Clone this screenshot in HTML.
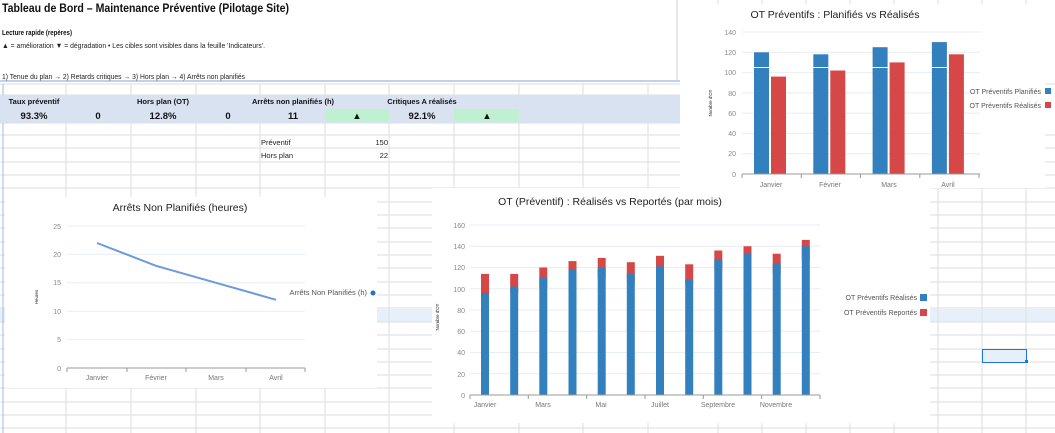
<!DOCTYPE html>
<html><head><meta charset="utf-8"><style>
html,body{margin:0;padding:0;background:#fff;width:1055px;height:433px;overflow:hidden}
svg{display:block;font-family:"Liberation Sans",sans-serif}
</style></head><body>
<svg width="1055" height="433" viewBox="0 0 1055 433" xmlns="http://www.w3.org/2000/svg">
<rect x="0" y="309" width="1055" height="13" fill="#e6f0fb"/>
<g stroke="#dedede" stroke-width="1">
<line x1="0" y1="84" x2="1055" y2="84"/><line x1="0" y1="95" x2="680" y2="95"/><line x1="0" y1="109" x2="680" y2="109"/><line x1="0" y1="123" x2="680" y2="123"/>
<line x1="0" y1="135" x2="1055" y2="135"/><line x1="0" y1="148" x2="1055" y2="148"/><line x1="0" y1="162" x2="1055" y2="162"/><line x1="0" y1="175" x2="1055" y2="175"/><line x1="0" y1="188" x2="1055" y2="188"/>
<line x1="0" y1="202" x2="1055" y2="202"/><line x1="0" y1="215" x2="1055" y2="215"/><line x1="0" y1="228" x2="1055" y2="228"/><line x1="0" y1="242" x2="1055" y2="242"/><line x1="0" y1="255" x2="1055" y2="255"/><line x1="0" y1="268" x2="1055" y2="268"/><line x1="0" y1="282" x2="1055" y2="282"/><line x1="0" y1="295" x2="1055" y2="295"/><line x1="0" y1="308" x2="1055" y2="308"/><line x1="0" y1="322" x2="1055" y2="322"/><line x1="0" y1="335" x2="1055" y2="335"/><line x1="0" y1="349" x2="1055" y2="349"/><line x1="0" y1="362" x2="1055" y2="362"/><line x1="0" y1="375" x2="1055" y2="375"/><line x1="0" y1="388" x2="1055" y2="388"/><line x1="0" y1="402" x2="1055" y2="402"/><line x1="0" y1="415" x2="1055" y2="415"/><line x1="0" y1="428" x2="1055" y2="428"/>
<line x1="66" y1="84" x2="66" y2="433"/><line x1="131" y1="84" x2="131" y2="433"/><line x1="196" y1="84" x2="196" y2="433"/><line x1="260" y1="84" x2="260" y2="433"/><line x1="325" y1="84" x2="325" y2="433"/><line x1="389" y1="84" x2="389" y2="433"/><line x1="454" y1="84" x2="454" y2="433"/><line x1="519" y1="84" x2="519" y2="433"/><line x1="583" y1="84" x2="583" y2="433"/><line x1="648" y1="84" x2="648" y2="433"/>
<line x1="718" y1="0" x2="718" y2="433"/><line x1="762" y1="0" x2="762" y2="433"/><line x1="806" y1="0" x2="806" y2="433"/><line x1="850" y1="0" x2="850" y2="433"/><line x1="894" y1="0" x2="894" y2="433"/><line x1="938" y1="0" x2="938" y2="433"/><line x1="982" y1="0" x2="982" y2="433"/><line x1="1026" y1="0" x2="1026" y2="433"/>
</g>
<line x1="3" y1="84" x2="3" y2="433" stroke="#9dbbe6" stroke-width="1"/>
<rect x="0" y="0" width="678" height="80" fill="#fff"/>
<line x1="677" y1="0" x2="677" y2="80" stroke="#d0d0d0"/>
<line x1="0" y1="81" x2="680" y2="81" stroke="#7fa6d9"/>
<text x="2" y="12" font-size="12" font-weight="bold" fill="#111" textLength="287" lengthAdjust="spacingAndGlyphs">Tableau de Bord – Maintenance Préventive (Pilotage Site)</text>
<text x="2" y="35" font-size="7.5" font-weight="bold" fill="#111" textLength="70" lengthAdjust="spacingAndGlyphs">Lecture rapide (repères)</text>
<text x="2" y="48" font-size="7.5" fill="#222" textLength="263" lengthAdjust="spacingAndGlyphs">▲ = amélioration   ▼ = dégradation   • Les cibles sont visibles dans la feuille 'Indicateurs'.</text>
<text x="2" y="79" font-size="7.5" fill="#222" textLength="243" lengthAdjust="spacingAndGlyphs">1) Tenue du plan → 2) Retards critiques → 3) Hors plan → 4) Arrêts non planifiés</text>
<rect x="0" y="95" width="680" height="28" fill="#d9e2f1"/>
<rect x="325" y="109" width="64" height="13" fill="#bff0cf"/>
<rect x="454" y="109" width="65" height="13" fill="#bff0cf"/>
<g font-size="7.5" font-weight="bold" fill="#111" text-anchor="middle">
<text x="34" y="104">Taux préventif</text><text x="163" y="104">Hors plan (OT)</text><text x="293" y="104">Arrêts non planifiés (h)</text><text x="422" y="104">Critiques A réalisés</text>
</g>
<g font-size="9.5" font-weight="bold" fill="#111" text-anchor="middle">
<text x="34" y="119">93.3%</text><text x="98" y="119">0</text><text x="163" y="119">12.8%</text><text x="228" y="119">0</text><text x="293" y="119">11</text><text x="357" y="119">▲</text><text x="422" y="119">92.1%</text><text x="487" y="119">▲</text>
</g>
<g font-size="7.5" fill="#222"><text x="261" y="145">Préventif</text><text x="261" y="158">Hors plan</text>
<text x="388" y="145" text-anchor="end">150</text><text x="388" y="158" text-anchor="end">22</text></g>
<rect x="982.5" y="349.5" width="44" height="13" fill="#e6f0fb" stroke="#1a73e8" stroke-width="1"/>
<rect x="1025" y="360" width="3" height="3" fill="#1a73e8"/>

<rect x="680" y="4" width="365" height="184" fill="#fff"/>
<text x="835" y="18" font-size="10.5" fill="#222" text-anchor="middle">OT Préventifs : Planifiés vs Réalisés</text>
<g stroke="#e8eef6"><line x1="742" y1="153.7" x2="980" y2="153.7"/><line x1="742" y1="133.4" x2="980" y2="133.4"/><line x1="742" y1="113.1" x2="980" y2="113.1"/><line x1="742" y1="92.9" x2="980" y2="92.9"/><line x1="742" y1="72.6" x2="980" y2="72.6"/><line x1="742" y1="52.3" x2="980" y2="52.3"/><line x1="742" y1="32" x2="980" y2="32"/></g>
<g font-size="7" fill="#888" text-anchor="end"><text x="736" y="177">0</text><text x="736" y="156">20</text><text x="736" y="136">40</text><text x="736" y="116">60</text><text x="736" y="96">80</text><text x="736" y="75">100</text><text x="736" y="55">120</text><text x="736" y="35">140</text></g>
<text transform="translate(712,103) rotate(-90)" font-size="4.5" fill="#222" text-anchor="middle">Nombre d'OT</text>
<g fill="#3380bf"><rect x="754" y="52.3" width="15" height="121.7"/><rect x="813.3" y="54.3" width="15" height="119.7"/><rect x="872.6" y="47.2" width="15" height="126.8"/><rect x="931.9" y="42.1" width="15" height="131.9"/></g>
<g fill="#d64848"><rect x="771" y="76.6" width="15" height="97.4"/><rect x="830.3" y="70.5" width="15" height="103.5"/><rect x="889.6" y="62.4" width="15" height="111.6"/><rect x="948.9" y="54.3" width="15" height="119.7"/></g>
<g stroke="#fff" stroke-width="1"><line x1="754" y1="67.5" x2="769" y2="67.5"/><line x1="813.3" y1="67.5" x2="828.3" y2="67.5"/><line x1="872.6" y1="67.5" x2="887.6" y2="67.5"/><line x1="931.9" y1="67.5" x2="946.9" y2="67.5"/></g>
<line x1="742" y1="174" x2="980" y2="174" stroke="#999"/>
<g stroke="#999"><line x1="742" y1="174" x2="742" y2="178"/><line x1="801.3" y1="174" x2="801.3" y2="178"/><line x1="860.5" y1="174" x2="860.5" y2="178"/><line x1="919.8" y1="174" x2="919.8" y2="178"/><line x1="979" y1="174" x2="979" y2="178"/></g>
<g font-size="7" fill="#777" text-anchor="middle"><text x="771" y="187">Janvier</text><text x="830" y="187">Février</text><text x="889" y="187">Mars</text><text x="948" y="187">Avril</text></g>
<g font-size="7" fill="#555" text-anchor="end"><text x="1041" y="94">OT Préventifs Planifiés</text><text x="1041" y="108">OT Préventifs Réalisés</text></g>
<rect x="1045" y="88" width="6" height="6" fill="#3380bf"/><rect x="1045" y="102" width="6" height="6" fill="#d64848"/>

<rect x="5" y="197" width="372" height="191" fill="#fff"/>
<text x="180" y="211" font-size="10.5" fill="#222" text-anchor="middle">Arrêts Non Planifiés (heures)</text>
<g stroke="#e8eef6"><line x1="67" y1="339.6" x2="305" y2="339.6"/><line x1="67" y1="311.2" x2="305" y2="311.2"/><line x1="67" y1="282.8" x2="305" y2="282.8"/><line x1="67" y1="254.4" x2="305" y2="254.4"/><line x1="67" y1="226" x2="305" y2="226"/></g>
<g font-size="7" fill="#888" text-anchor="end"><text x="61" y="371">0</text><text x="61" y="342">5</text><text x="61" y="314">10</text><text x="61" y="285">15</text><text x="61" y="257">20</text><text x="61" y="229">25</text></g>
<text transform="translate(38,297) rotate(-90)" font-size="4.5" fill="#222" text-anchor="middle">Heures</text>
<line x1="67" y1="368" x2="305" y2="368" stroke="#999"/>
<g stroke="#999"><line x1="67" y1="368" x2="67" y2="372"/><line x1="127" y1="368" x2="127" y2="372"/><line x1="186" y1="368" x2="186" y2="372"/><line x1="246" y1="368" x2="246" y2="372"/><line x1="305" y1="368" x2="305" y2="372"/></g>
<polyline points="97,243 156,265.8 216,282.8 276,299.8" fill="none" stroke="#6a9ae0" stroke-width="2"/>
<g font-size="7" fill="#777" text-anchor="middle"><text x="97" y="380">Janvier</text><text x="156" y="380">Février</text><text x="216" y="380">Mars</text><text x="276" y="380">Avril</text></g>
<text x="367" y="295" font-size="7.5" fill="#555" text-anchor="end">Arrêts Non Planifiés (h)</text>
<circle cx="373" cy="293" r="2.5" fill="#2a6fd6"/>

<rect x="432" y="188" width="498" height="235" fill="#fff"/>
<text x="610" y="205" font-size="10.5" fill="#222" text-anchor="middle">OT (Préventif) : Réalisés vs Reportés (par mois)</text>
<g stroke="#e8eef6"><line x1="470" y1="373.75" x2="820" y2="373.75"/><line x1="470" y1="352.5" x2="820" y2="352.5"/><line x1="470" y1="331.25" x2="820" y2="331.25"/><line x1="470" y1="310" x2="820" y2="310"/><line x1="470" y1="288.75" x2="820" y2="288.75"/><line x1="470" y1="267.5" x2="820" y2="267.5"/><line x1="470" y1="246.25" x2="820" y2="246.25"/><line x1="470" y1="225" x2="820" y2="225"/></g>
<g font-size="7" fill="#888" text-anchor="end"><text x="465" y="398">0</text><text x="465" y="377">20</text><text x="465" y="355">40</text><text x="465" y="334">60</text><text x="465" y="313">80</text><text x="465" y="292">100</text><text x="465" y="270">120</text><text x="465" y="249">140</text><text x="465" y="228">160</text></g>
<text transform="translate(439,317) rotate(-90)" font-size="4.5" fill="#222" text-anchor="middle">Nombre d'OT</text>
<g fill="#d64848">
<rect x="481" y="273.9" width="8" height="30"/><rect x="510.2" y="273.9" width="8" height="20"/><rect x="539.3" y="267.5" width="8" height="20"/><rect x="568.5" y="261.1" width="8" height="20"/><rect x="597.7" y="257.9" width="8" height="20"/><rect x="626.8" y="262.2" width="8" height="20"/><rect x="656" y="255.8" width="8" height="20"/><rect x="685.2" y="264.3" width="8" height="20"/><rect x="714.3" y="250.5" width="8" height="20"/><rect x="743.5" y="246.25" width="8" height="20"/><rect x="772.7" y="253.7" width="8" height="20"/><rect x="801.8" y="239.9" width="8" height="20"/>
</g>
<g fill="#3380bf">
<rect x="481" y="293" width="8" height="102"/><rect x="510.2" y="286.6" width="8" height="108.4"/><rect x="539.3" y="278.1" width="8" height="116.9"/><rect x="568.5" y="269.6" width="8" height="125.4"/><rect x="597.7" y="267.5" width="8" height="127.5"/><rect x="626.8" y="273.9" width="8" height="121.1"/><rect x="656" y="266.4" width="8" height="128.6"/><rect x="685.2" y="279.2" width="8" height="115.8"/><rect x="714.3" y="259" width="8" height="136"/><rect x="743.5" y="253.7" width="8" height="141.3"/><rect x="772.7" y="263.25" width="8" height="131.75"/><rect x="801.8" y="246.25" width="8" height="148.75"/>
</g>
<line x1="470" y1="395" x2="820" y2="395" stroke="#999"/>
<g stroke="#999"><line x1="470" y1="395" x2="470" y2="399"/><line x1="528.3" y1="395" x2="528.3" y2="399"/><line x1="586.7" y1="395" x2="586.7" y2="399"/><line x1="645" y1="395" x2="645" y2="399"/><line x1="703.3" y1="395" x2="703.3" y2="399"/><line x1="761.7" y1="395" x2="761.7" y2="399"/><line x1="820" y1="395" x2="820" y2="399"/></g>
<g font-size="7" fill="#777" text-anchor="middle"><text x="485" y="407">Janvier</text><text x="543" y="407">Mars</text><text x="601" y="407">Mai</text><text x="660" y="407">Juillet</text><text x="718" y="407">Septembre</text><text x="776" y="407">Novembre</text></g>
<g font-size="7" fill="#555" text-anchor="end"><text x="917" y="300">OT Préventifs Réalisés</text><text x="917" y="315">OT Préventifs Reportés</text></g>
<rect x="920" y="294" width="7" height="7" fill="#3380bf"/><rect x="920" y="309" width="7" height="7" fill="#d64848"/>
</svg>
</body></html>
